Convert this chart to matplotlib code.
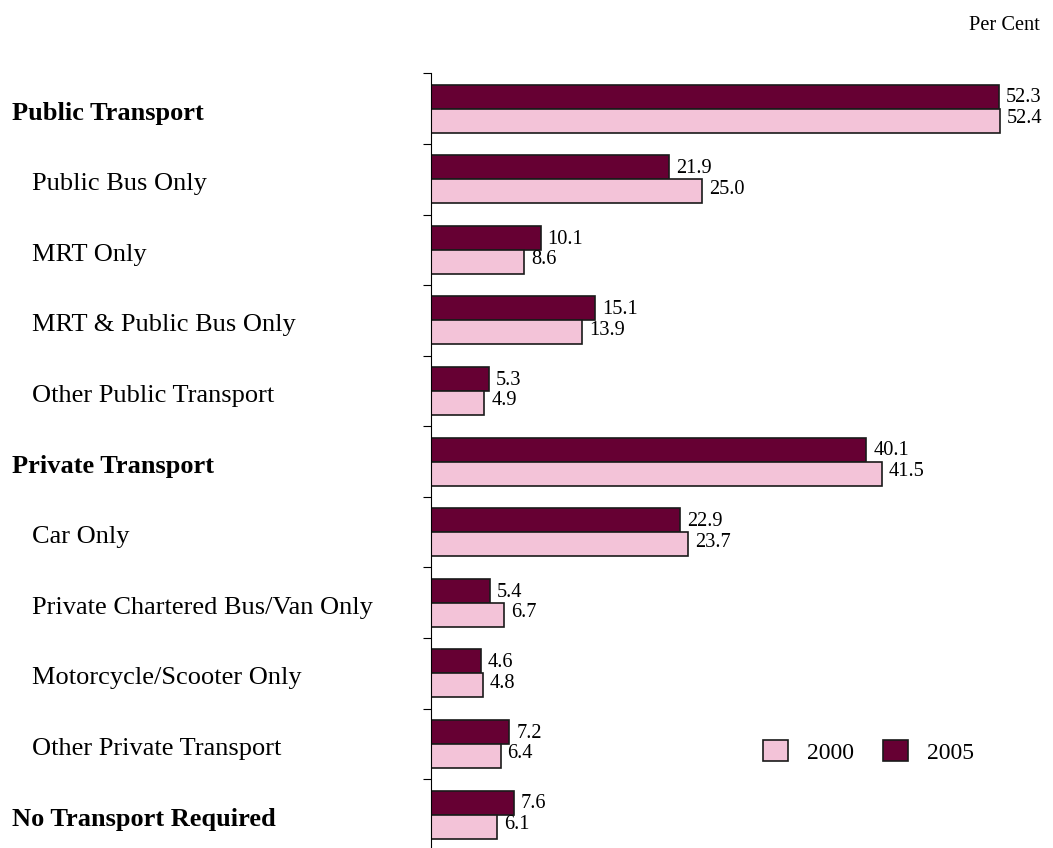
import numpy as np
import matplotlib
matplotlib.use("Agg")
import matplotlib.pyplot as plt
from matplotlib.patches import Patch
from matplotlib.transforms import blended_transform_factory

plt.rcParams['font.family'] = ['Liberation Serif', 'DejaVu Serif']

# mode of transport to work, per cent of working persons
categories = [
    "Public Transport",
    "Public Bus Only",
    "MRT Only",
    "MRT & Public Bus Only",
    "Other Public Transport",
    "Private Transport",
    "Car Only",
    "Private Chartered Bus/Van Only",
    "Motorcycle/Scooter Only",
    "Other Private Transport",
    "No Transport Required",
]
is_heading = [True, False, False, False, False, True, False, False, False, False, True]
share_2000 = [52.4, 25.0, 8.6, 13.9, 4.9, 41.5, 23.7, 6.7, 4.8, 6.4, 6.1]
share_2005 = [52.3, 21.9, 10.1, 15.1, 5.3, 40.1, 22.9, 5.4, 4.6, 7.2, 7.6]

col_2000 = '#F3C3D8'
col_2005 = '#660033'
edge = '#1a1a1a'

W, H = 1053, 848
fig = plt.figure(figsize=(W / 100, H / 100), dpi=100)

# axes: left spine at x=431px, top at y=73px, 70.6px per category
n = len(categories)
pitch = 70.6
top_px = 73.3
ax_h = n * pitch
ax = fig.add_axes([431 / W, (H - top_px - ax_h) / H, 619 / W, ax_h / H])

y = np.arange(n)
bh = 0.34
ax.barh(y - bh / 2, share_2005, height=bh, color=col_2005,
        edgecolor=edge, linewidth=1.2)
ax.barh(y + bh / 2, share_2000, height=bh, color=col_2000,
        edgecolor=edge, linewidth=1.2)

for yy, v in zip(y - bh / 2, share_2005):
    ax.annotate(f"{v:.1f}", (v, yy), xytext=(5, -1), textcoords='offset points',
                ha='left', va='center', fontsize=14.7)
for yy, v in zip(y + bh / 2, share_2000):
    ax.annotate(f"{v:.1f}", (v, yy), xytext=(5, 1.5), textcoords='offset points',
                ha='left', va='center', fontsize=14.7)

ax.set_xlim(0, 57)
ax.set_ylim(n - 0.5, -0.5)

for s in ['top', 'right', 'bottom']:
    ax.spines[s].set_visible(False)
ax.spines['left'].set_linewidth(0.8)
ax.set_xticks([])
ax.set_yticks(np.arange(n) - 0.5)
ax.set_yticklabels([])
ax.tick_params(axis='y', direction='out', length=5.8, width=0.8)

# category labels, sub-modes indented
tr = blended_transform_factory(fig.transFigure, ax.transData)
for i, (lab, head) in enumerate(zip(categories, is_heading)):
    x0 = 12 / W if head else 32 / W
    ax.text(x0, i + 0.07, lab, transform=tr, ha='left', va='center',
            fontsize=19, fontweight='bold' if head else 'normal', clip_on=False)

fig.text(1040 / W, 1 - 25 / H, "Per Cent", ha='right', va='center', fontsize=14.7)

handles = [Patch(facecolor=col_2000, edgecolor=edge, linewidth=1.2),
           Patch(facecolor=col_2005, edgecolor=edge, linewidth=1.2)]
fig.legend(handles, ["2000", "2005"], loc='center left',
           bbox_to_anchor=(763 / W, 1 - 752 / H), ncol=2, frameon=False,
           fontsize=17, handlelength=1.06, handleheight=1.0,
           handletextpad=0.8, columnspacing=1.23, borderpad=0, borderaxespad=0)

fig.savefig("out.png", dpi=100)
